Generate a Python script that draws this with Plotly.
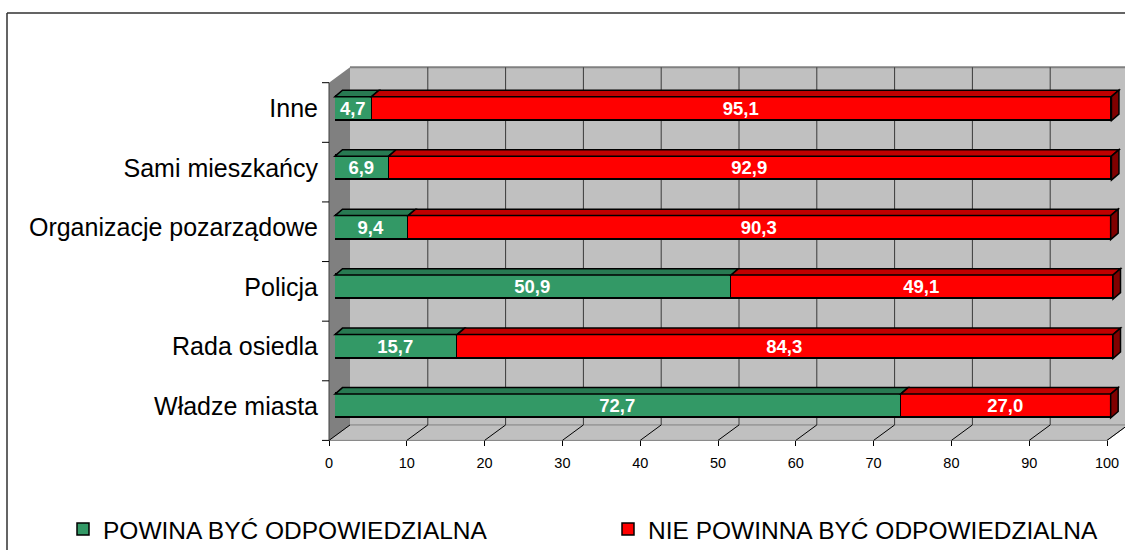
import plotly.graph_objects as go

# ---------------- data ----------------
categories = ["Władze miasta", "Rada osiedla", "Policja",
              "Organizacje pozarządowe", "Sami mieszkańcy", "Inne"]
powinna = [72.7, 15.7, 50.9, 9.4, 6.9, 4.7]
nie_powinna = [27.0, 84.3, 49.1, 90.3, 92.9, 95.1]
series_names = ["POWINA BYĆ ODPOWIEDZIALNA", "NIE POWINNA BYĆ ODPOWIEDZIALNA"]
x_ticks = [0, 10, 20, 30, 40, 50, 60, 70, 80, 90, 100]

# ---------------- geometry (pixels) ----------------
W, H = 1125, 552
FONT = "Liberation Sans, Arial, sans-serif"
GREEN, GREEN_TOP = "#339966", "#287A52"
RED, RED_TOP, RED_SIDE = "#FF0000", "#C00000", "#800000"

AX0, AX1 = 329, 1107          # front floor axis: 0 and 100
BX0, BX1 = 335, 1113          # bar front face: 0 and 100
DX, DY = 21, 15.5             # depth of the box
FLOOR_F = 442
FLOOR_B = FLOOR_F - DY
WALL_TOP = 67.5
SIDE_TOP = WALL_TOP + DY
BAR_C0, BAR_STEP = 407.5, 59.7   # bar centre (bottom category) and spacing
BAR_H = 24
BDX, BDY = 7.5, 6.5           # bar depth
RIGHT = W + 1                 # right clipping edge for the wall / floor


def px(x):
    return x / W


def py(y):
    return 1 - y / H


def path(pts):
    s = "M " + " L ".join(f"{px(a):.5f},{py(b):.5f}" for a, b in pts) + " Z"
    return s


def ax_x(v):
    return AX0 + (AX1 - AX0) * v / 100.0


def bar_x(v):
    return BX0 + (BX1 - BX0) * v / 100.0


shapes = []
# back wall
shapes.append(dict(type="path", xref="paper", yref="paper", layer="below",
                   path=path([(AX0 + DX, WALL_TOP), (RIGHT, WALL_TOP), (RIGHT, FLOOR_B), (AX0 + DX, FLOOR_B)]),
                   fillcolor="#C0C0C0", line=dict(width=0)))
# side wall
shapes.append(dict(type="path", xref="paper", yref="paper", layer="below",
                   path=path([(AX0, SIDE_TOP), (AX0 + DX, WALL_TOP), (AX0 + DX, FLOOR_B), (AX0, FLOOR_F)]),
                   fillcolor="#808080", line=dict(width=0)))
# floor
fr_y = FLOOR_F - (RIGHT - AX1) * DY / DX
shapes.append(dict(type="path", xref="paper", yref="paper", layer="below",
                   path=path([(AX0, FLOOR_F), (AX0 + DX, FLOOR_B), (RIGHT, FLOOR_B), (RIGHT, fr_y), (AX1, FLOOR_F)]),
                   fillcolor="#C0C0C0", line=dict(color="#808080", width=1)))
# wall top edge
shapes.append(dict(type="line", xref="paper", yref="paper", layer="below",
                   x0=px(AX0 + DX), x1=px(RIGHT), y0=py(WALL_TOP), y1=py(WALL_TOP),
                   line=dict(color="#808080", width=2)))
# back wall vertical gridlines and floor diagonals
for t in x_ticks:
    xf = ax_x(t)
    if t > 0 and xf + DX < W:
        shapes.append(dict(type="line", xref="paper", yref="paper", layer="below",
                           x0=px(xf + DX), x1=px(xf + DX), y0=py(WALL_TOP), y1=py(FLOOR_B),
                           line=dict(color="#3a3a3a", width=1)))
    x_end = min(xf + DX, RIGHT)
    shapes.append(dict(type="line", xref="paper", yref="paper", layer="below",
                       x0=px(xf), x1=px(x_end), y0=py(FLOOR_F), y1=py(FLOOR_F - (x_end - xf) * DY / DX),
                       line=dict(color="#000000", width=1)))
# front vertical edge and category tick marks
shapes.append(dict(type="line", xref="paper", yref="paper", layer="below",
                   x0=px(AX0), x1=px(AX0), y0=py(SIDE_TOP), y1=py(FLOOR_F),
                   line=dict(color="#404040", width=1)))
ncat = len(categories)
for k in range(ncat + 1):
    yy = FLOOR_F - k * (FLOOR_F - SIDE_TOP) / ncat
    shapes.append(dict(type="line", xref="paper", yref="paper", layer="below",
                       x0=px(AX0 - 7), x1=px(AX0), y0=py(yy), y1=py(yy),
                       line=dict(color="#000000", width=1)))

# 3-D faces of the bars (computed from the data)
for i, (g, r) in enumerate(zip(powinna, nie_powinna)):
    yc = BAR_C0 - i * BAR_STEP
    yt, yb = yc - BAR_H / 2, yc + BAR_H / 2
    x0, x1, x2 = bar_x(0), bar_x(g), bar_x(g + r)
    shapes.append(dict(type="path", xref="paper", yref="paper", layer="above",
                       path=path([(x0, yt), (x0 + BDX, yt - BDY), (x1 + BDX, yt - BDY), (x1, yt)]),
                       fillcolor=GREEN_TOP, line=dict(color="#000000", width=1.5)))
    shapes.append(dict(type="path", xref="paper", yref="paper", layer="above",
                       path=path([(x1, yt), (x1 + BDX, yt - BDY), (x2 + BDX, yt - BDY), (x2, yt)]),
                       fillcolor=RED_TOP, line=dict(color="#000000", width=1.5)))
    shapes.append(dict(type="path", xref="paper", yref="paper", layer="above",
                       path=path([(x2, yt), (x2 + BDX, yt - BDY), (x2 + BDX, yb - BDY), (x2, yb)]),
                       fillcolor=RED_SIDE, line=dict(color="#000000", width=1.5)))

# outer frame
shapes.append(dict(type="line", xref="paper", yref="paper", layer="above",
                   x0=px(7), x1=px(W), y0=py(13), y1=py(13), line=dict(color="#303030", width=1.5)))
shapes.append(dict(type="line", xref="paper", yref="paper", layer="above",
                   x0=px(7), x1=px(7), y0=py(13), y1=py(H), line=dict(color="#303030", width=1.5)))

fig = go.Figure()
fig.add_trace(go.Bar(y=categories, x=powinna, orientation="h", name=series_names[0],
                     marker=dict(color=GREEN, line=dict(color="#000000", width=1.5)),
                     width=BAR_H / BAR_STEP, texttemplate="%{x:.1f}", textposition="inside",
                     insidetextanchor="middle", constraintext="none", legend="legend",
                     textfont=dict(family=FONT, size=18.5, color="white", weight="bold"),
                     hoverinfo="skip"))
fig.add_trace(go.Bar(y=categories, x=nie_powinna, orientation="h", name=series_names[1],
                     marker=dict(color=RED, line=dict(color="#000000", width=1.5)),
                     width=BAR_H / BAR_STEP, texttemplate="%{x:.1f}", textposition="inside",
                     insidetextanchor="middle", constraintext="none", legend="legend2",
                     textfont=dict(family=FONT, size=18.5, color="white", weight="bold"),
                     hoverinfo="skip"))
# helper trace to show the front value axis
fig.add_trace(go.Scatter(x=[0, 100], y=[0, 1], xaxis="x2", yaxis="y2", mode="markers",
                         marker=dict(opacity=0), showlegend=False, hoverinfo="skip"))

ydom0 = py(BAR_C0 + BAR_STEP / 2)
ydom1 = py(BAR_C0 - (ncat - 1) * BAR_STEP - BAR_STEP / 2)

legend_common = dict(orientation="h", yanchor="middle", y=py(531),
                     font=dict(family=FONT, size=24.5, color="black"),
                     bgcolor="rgba(0,0,0,0)", xanchor="left")

fig.update_layout(
    width=W, height=H,
    margin=dict(l=0, r=0, t=0, b=0),
    paper_bgcolor="white", plot_bgcolor="rgba(0,0,0,0)",
    separators=", ",
    barmode="stack", bargap=0,
    font=dict(family=FONT, color="black"),
    xaxis=dict(domain=[px(BX0), px(BX1)], range=[0, 100], automargin=False,
               showgrid=False, zeroline=False,
               showticklabels=False, ticks="", showline=False, anchor="y"),
    yaxis=dict(domain=[ydom0, ydom1], range=[-0.5, ncat - 0.5], type="category",
               categoryorder="array", categoryarray=categories, automargin=False,
               showgrid=False, zeroline=False, showline=False, ticks="",
               tickfont=dict(family=FONT, size=25, color="black"), ticklabelstandoff=16),
    xaxis2=dict(domain=[px(AX0), px(AX1)], range=[0, 100], anchor="free", position=py(FLOOR_F),
                tickvals=x_ticks, ticks="outside", ticklen=5, tickcolor="black", tickwidth=1,
                showgrid=False, zeroline=False, showline=False, ticklabelstandoff=4,
                automargin=False, ticklabeloverflow="allow",
                tickfont=dict(family=FONT, size=14.5, color="black")),
    yaxis2=dict(domain=[0, 1], range=[0, 1], visible=False, overlaying="y", automargin=False),
    showlegend=True,
    legend=dict(x=px(63), **legend_common),
    legend2=dict(x=px(608), **legend_common),
    shapes=shapes,
)

fig.write_html("out.html",
               config=dict(displayModeBar=False, responsive=False),
               post_script="var s=document.documentElement.style;s.margin='0';s.padding='0';s.overflow='hidden';"
                           "var b=document.body.style;b.margin='0';b.padding='0';b.overflow='hidden';"
                           "b.width='1125px';b.height='552px';"
                           "var p=document.getElementById('{plot_id}').parentNode.style;p.lineHeight='0';"
                           "p.margin='0';p.padding='0';")
